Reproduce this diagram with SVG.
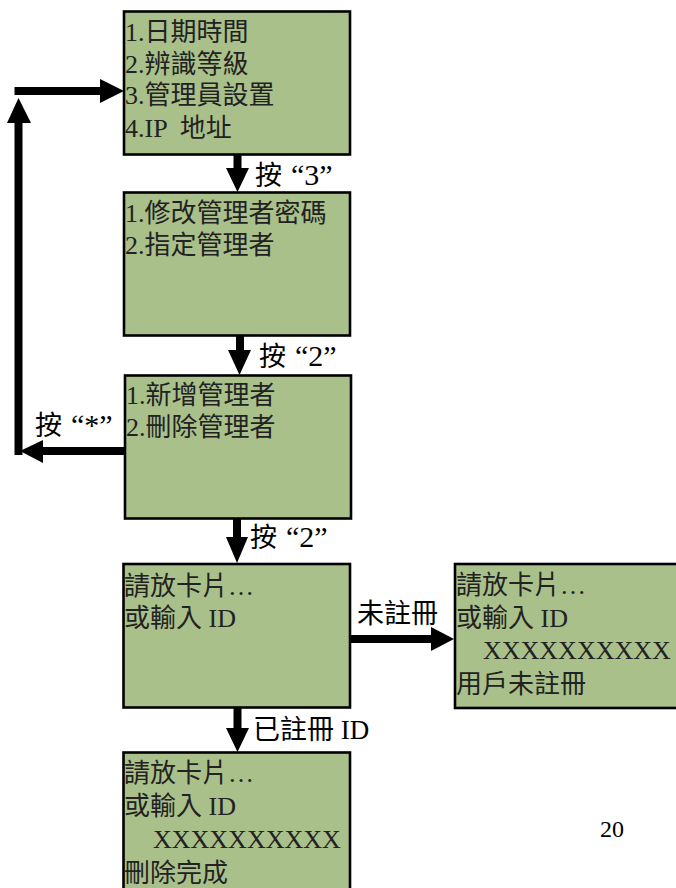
<svg xmlns="http://www.w3.org/2000/svg" width="676" height="888" viewBox="0 0 676 888">
<style>
.box{fill:#A9C08B;stroke:#000;stroke-width:2.6}
.t{font-family:"Liberation Serif","Noto Sans CJK TC",serif;font-size:26px;fill:#222;white-space:pre}
.lbl{font-family:"Liberation Serif","Noto Sans CJK TC",serif;font-size:27px;fill:#000;white-space:pre}
.q{font-size:30px}
.ln{stroke:#000;stroke-width:8;fill:none}
.hd{fill:#000}
</style>
<rect width="676" height="888" fill="#fff"/>
<g id="connectors">
<line class="ln" x1="237.5" y1="155" x2="237.5" y2="170"/>
<polygon class="hd" points="226,168 249,168 237.5,192"/>
<line class="ln" x1="240" y1="336" x2="240" y2="352"/>
<polygon class="hd" points="228,350 251,350 239.5,375"/>
<line class="ln" x1="237" y1="519" x2="237" y2="539"/>
<polygon class="hd" points="226,537 248,537 237,563"/>
<line class="ln" x1="237.5" y1="708" x2="237.5" y2="730"/>
<polygon class="hd" points="226,728 249,728 237.5,752"/>
<line class="ln" x1="351" y1="639" x2="433" y2="639"/>
<polygon class="hd" points="431,627 431,651 454,639"/>
<line class="ln" x1="124" y1="451" x2="41" y2="451"/>
<polygon class="hd" points="43,440 43,463 20,451"/>
<line class="ln" x1="18.5" y1="455" x2="18.5" y2="121"/>
<polygon class="hd" points="7,123 31,123 18.5,98"/>
<line class="ln" x1="14.5" y1="91" x2="102" y2="91"/>
<polygon class="hd" points="100,79 100,103 124,91"/>
<text class="lbl" x="255" y="185">按<tspan class="q" dx="9">“3”</tspan></text>
<text class="lbl" x="259" y="366">按<tspan class="q" dx="9">“2”</tspan></text>
<text class="lbl" x="35" y="435">按<tspan class="q" dx="9">“*”</tspan></text>
<text class="lbl" x="250" y="547">按<tspan class="q" dx="9">“2”</tspan></text>
<text class="lbl" x="357" y="623">未註冊</text>
<text class="lbl" x="253" y="739">已註冊 ID</text>
</g>
<g id="node1">
<rect class="box" x="124" y="11.5" width="226" height="143"/>
<text class="t" x="125" y="41">1.日期時間</text>
<text class="t" x="125" y="73">2.辨識等級</text>
<text class="t" x="125" y="104">3.管理員設置</text>
<text class="t" x="125" y="137">4.IP  地址</text>
</g>
<g id="node2">
<rect class="box" x="124" y="192.5" width="226" height="143"/>
<text class="t" x="125" y="222">1.修改管理者密碼</text>
<text class="t" x="125" y="254">2.指定管理者</text>
</g>
<g id="node3">
<rect class="box" x="125" y="375.5" width="226" height="143"/>
<text class="t" x="126" y="404">1.新增管理者</text>
<text class="t" x="126" y="436">2.刪除管理者</text>
</g>
<g id="node4">
<rect class="box" x="123.5" y="564" width="226.5" height="143.5"/>
<text class="t" x="124" y="595">請放卡片…</text>
<text class="t" x="124" y="627">或輸入 ID</text>
</g>
<g id="node5">
<rect class="box" x="123.5" y="752.5" width="226.5" height="150"/>
<text class="t" x="124" y="782">請放卡片…</text>
<text class="t" x="124" y="815">或輸入 ID</text>
<text class="t" x="153" y="848">XXXXXXXXXX</text>
<text class="t" x="124" y="882">刪除完成</text>
</g>
<g id="node6">
<rect class="box" x="455" y="564" width="240" height="144"/>
<text class="t" x="456" y="594">請放卡片…</text>
<text class="t" x="456" y="627">或輸入 ID</text>
<text class="t" x="483" y="659">XXXXXXXXXX</text>
<text class="t" x="456" y="693">用戶未註冊</text>
</g>
<text class="t" x="600" y="837" style="font-size:24px;fill:#000">20</text>
</svg>
